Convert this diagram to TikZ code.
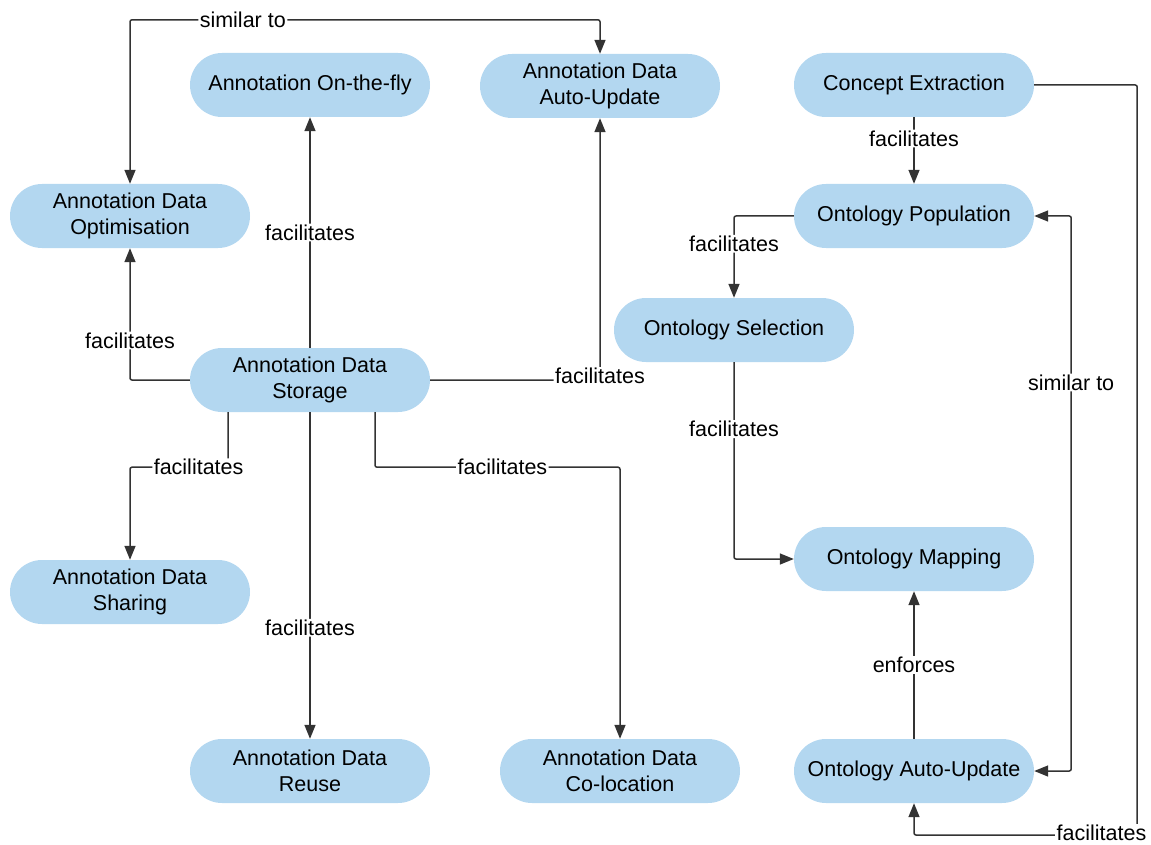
\documentclass[tikz,border=0pt]{standalone}
\usepackage{fontspec}
\setmainfont{Liberation Sans}
\usepackage{xcolor}
\usepackage{tikz}
\usetikzlibrary{arrows.meta,positioning,calc}
\definecolor{pillblue}{HTML}{B3D7F0}
\definecolor{wire}{HTML}{333333}
\tikzset{
  pill/.style  ={draw=none, fill=pillblue, rounded corners=32pt, align=center,
                 minimum width=240pt, minimum height=64pt, inner sep=2pt,
                 font=\fontsize{21.5}{26}\selectfont},
  rel/.style   ={draw=wire, line width=1.5pt, rounded corners=2pt,
                 -{Triangle[length=14pt,width=11pt]}},
  twoway/.style={rel, {Triangle[length=14pt,width=11pt]}-{Triangle[length=14pt,width=11pt]}},
  rellab/.style={font=\fontsize{21.5}{26}\selectfont, fill=white,
                 inner xsep=1.5pt, inner ysep=1pt},
}

\begin{document}
\begin{tikzpicture}[x=1pt,y=-1pt]
  \useasboundingbox (0,0) rectangle (1151,845);

  % ---------------------------------------------------------------- annotation side
  \node[pill] (fly)   at (310,85)  {Annotation On-the-fly};
  \node[pill] (aupd)  at (600,86)  {Annotation Data\\Auto-Update};
  \node[pill] (optim) at (130,216) {Annotation Data\\Optimisation};
  \node[pill] (store) at (310,380) {Annotation Data\\Storage};
  \node[pill] (share) at (130,592) {Annotation Data\\Sharing};
  \node[pill] (reuse) at (310,771) {Annotation Data\\Reuse};
  \node[pill] (coloc) at (620,771) {Annotation Data\\Co-location};

  % ---------------------------------------------------------------- ontology side
  \node[pill] (cext)  at (914,85)  {Concept Extraction};
  \node[pill] (opop)  at (914,216) {Ontology Population};
  \node[pill] (osel)  at (734,330) {Ontology Selection};
  \node[pill] (omap)  at (914,559) {Ontology Mapping};
  \node[pill] (oupd)  at (914,771) {Ontology Auto-Update};

  % ---------------------------------------------------------------- storage links
  \draw[rel] (store.west) -| node[rellab, pos=0.65] {facilitates} (optim.south);
  \draw[rel] (store.north) -- node[rellab] {facilitates} (fly.south);
  \draw[rel] (store.east) -| node[rellab, pos=0.5, yshift=4pt] {facilitates} (aupd.south);
  \draw[rel] ([xshift=-82pt]store.south) -- ++(0,55)
             -| node[rellab, pos=0.15] {facilitates} (share.north);
  \draw[rel] (store.south) -- node[rellab, pos=0.66] {facilitates} (reuse.north);
  \draw[rel] ([xshift=65pt]store.south) -- ++(0,55)
             -| node[rellab, pos=0.26] {facilitates} (coloc.north);
  \draw[twoway] (optim.north) -- ++(0,-164)
             -| node[rellab, pos=0.12] {similar to} (aupd.north);

  % ---------------------------------------------------------------- ontology links
  \draw[rel] (cext.south) -- node[rellab, pos=0.32] {facilitates} (opop.north);
  \draw[rel] (opop.west) -| node[rellab, pos=0.67] {facilitates} (osel.north);
  \draw[rel] (osel.south) |- node[rellab, pos=0.17] {facilitates} (omap.west);
  \draw[rel] (oupd.north) -- node[rellab] {enforces} (omap.south);
  \draw[twoway] (opop.east) -- ++(37,0)
             |- node[rellab, pos=0.15] {similar to} (oupd.east);
  \draw[rel] (cext.east) -- ++(103,0) -- ++(0,750)
             -| node[rellab, pos=0.08, yshift=2pt] {facilitates} (oupd.south);
\end{tikzpicture}
\end{document}
